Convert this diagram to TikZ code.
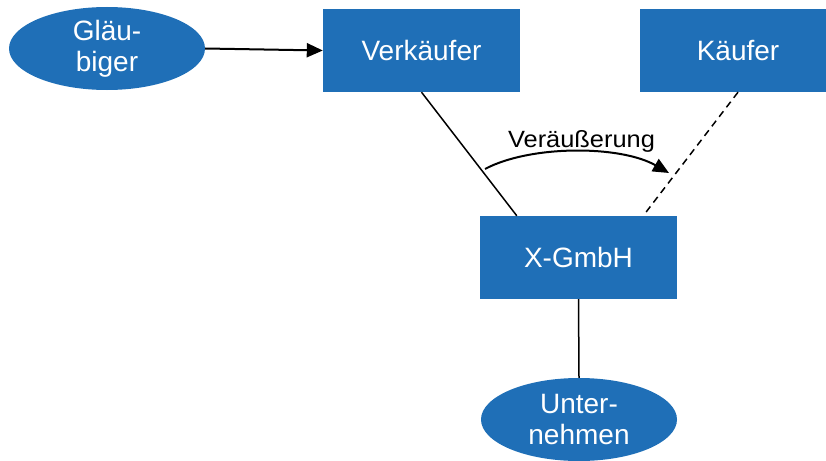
\documentclass[tikz,border=0pt]{standalone}
\usepackage{fontspec}
\setmainfont{Liberation Sans}
\usetikzlibrary{shapes.geometric,arrows.meta}
\definecolor{boxblue}{HTML}{1F6FB7}
\tikzset{
  boxnode/.style={rectangle, fill=boxblue, draw=none, minimum width=197pt, minimum height=83pt, inner sep=0pt},
  ovalnode/.style={ellipse, fill=boxblue, draw=none, minimum width=196pt, minimum height=83pt, inner sep=0pt},
  whitetext/.style={text=white, font=\fontsize{28}{31}\selectfont, align=center, inner sep=0pt},
  link/.style={draw=black, line width=1.5pt},
  arrowlink/.style={draw=black, line width=2pt, -{Triangle[length=16pt,width=14pt]}},
}
\begin{document}
\begin{tikzpicture}[x=1pt,y=-1pt]
\useasboundingbox (0,0) rectangle (826,460);
\clip (0,0) rectangle (826,460);
% nodes
\node[ovalnode] (g) at (107,48.5) {};
\node[whitetext] (gt) at (g.center) {Gläu-\\biger};
\node[boxnode] (v) at (421.5,50.5) {};
\node[whitetext] (vt) at (v.center) {Verkäufer};
\node[boxnode] (k) at (738,50.5) {};
\node[whitetext] (kt) at (k.center) {Käufer};
\node[boxnode] (x) at (578.5,257.5) {};
\node[whitetext] (xt) at (x.center) {X-GmbH};
\node[ovalnode] (u) at (579,419.5) {};
\node[whitetext] (ut) at (u.center) {Unter-\\nehmen};
% connectors
\draw[arrowlink] (g.east) -- (v.west);
\draw[link] (v.south) -- ([xshift=37pt]x.north west);
\draw[link, dashed, dash pattern=on 7pt off 5pt] (k.south) -- ([xshift=-34pt]x.north east);
\draw[link] (x.south) -- (u.north);
% Veraeusserung curve
\coordinate (cs) at (485,169);
\coordinate (ce) at (669,173);
\draw[arrowlink] (cs) .. controls (530,145) and (620,145) .. (ce);
\node[anchor=base, inner sep=0pt] (lab) at (581.5,147) {\scalebox{1.08}[1]{\fontsize{23.5}{26}\selectfont Veräußerung}};
\end{tikzpicture}
\end{document}
